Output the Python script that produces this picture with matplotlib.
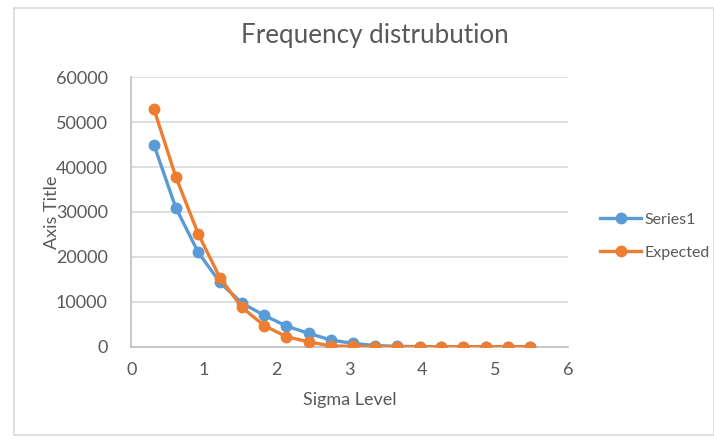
import matplotlib

matplotlib.use("Agg")
import matplotlib.pyplot as plt
from matplotlib.patches import Rectangle

# values
sigma = [0.31, 0.61, 0.92, 1.22, 1.52, 1.83, 2.13, 2.44, 2.74, 3.04,
         3.35, 3.65, 3.96, 4.26, 4.56, 4.87, 5.17, 5.48]
series1 = [45000, 31000, 21000, 14300, 9700, 6950, 4600, 2950, 1500, 750,
           250, 80, 20, 5, 0, 0, 0, 0]
expected = [53000, 37900, 25100, 15300, 8750, 4650, 2250, 1050, 200, 50,
            10, 0, 0, 0, 0, 0, 0, 0]
x_ticks = [0, 1, 2, 3, 4, 5, 6]
y_ticks = [0, 10000, 20000, 30000, 40000, 50000, 60000]

BLUE = "#5b9bd5"
ORANGE = "#ed7d31"
TEXT = "#595959"
GRID = "#d9d9d9"

plt.rcParams["font.family"] = ["Lato", "DejaVu Sans"]

fig = plt.figure(figsize=(7.14, 4.43), dpi=100)
ax = fig.add_axes((0.1839, 0.2174, 0.6116, 0.6081))

ax.plot(sigma, series1, color=BLUE, lw=2.4, marker="o", ms=7.5, label="Series1", zorder=3)
ax.plot(sigma, expected, color=ORANGE, lw=2.4, marker="o", ms=7.5, label="Expected", zorder=4)

ax.set_xlim(0, 6)
ax.set_ylim(0, 60000)
ax.set_xticks(x_ticks)
ax.set_yticks(y_ticks)
ax.set_xticklabels([str(v) for v in x_ticks])
ax.set_yticklabels([str(v) for v in y_ticks])
ax.tick_params(length=0, labelsize=13, labelcolor=TEXT)
ax.tick_params(axis="y", pad=17)
ax.tick_params(axis="x", pad=11)
ax.grid(axis="y", color=GRID, lw=1.2)
ax.set_axisbelow(True)
for side in ["top", "right"]:
    ax.spines[side].set_visible(False)
for side in ["left", "bottom"]:
    ax.spines[side].set_color("#bfbfbf")
    ax.spines[side].set_linewidth(1.2)

ax.set_xlabel("Sigma Level", color=TEXT, fontsize=13, labelpad=10)
ax.set_ylabel("Axis Title", color=TEXT, fontsize=13)
ax.yaxis.set_label_coords(-0.163, 0.5)
fig.text(0.525, 0.92, "Frequency distrubution", ha="center", va="center",
         color=TEXT, fontsize=18.7)

ax.legend(loc="center left", bbox_to_anchor=(1.04, 0.41), frameon=False,
          fontsize=11.5, labelcolor=TEXT, handlelength=2.6, handletextpad=0.2,
          labelspacing=1.2)

# chart area border
fig.patches.append(Rectangle((14 / 714, 8 / 443), 1 - 14 / 714, 1 - 16 / 443,
                             transform=fig.transFigure, fill=False,
                             edgecolor="#d9d9d9", lw=1.2))

fig.savefig("out.png", dpi=100)
